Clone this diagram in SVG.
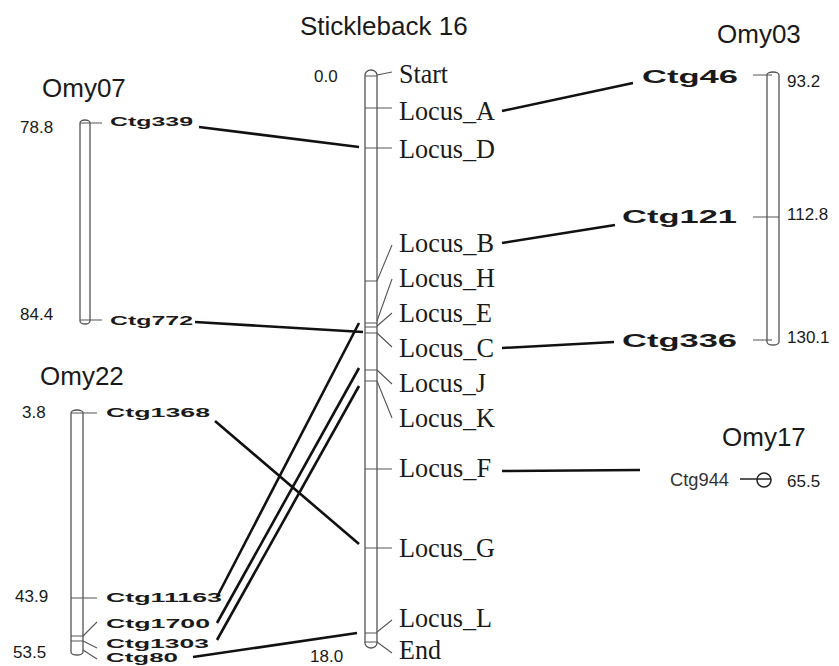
<svg xmlns="http://www.w3.org/2000/svg" width="839" height="666" viewBox="0 0 839 666">
<style>
.title{font-family:"Liberation Sans",Arial,sans-serif;font-size:26px;fill:#1a1a1a}
.num{font-family:"Liberation Sans",Arial,sans-serif;font-size:17px;fill:#1a1a1a}
.loc{font-family:"Liberation Serif","Times New Roman",serif;font-size:28px;fill:#1a1a1a}
.ctg{font-family:"Liberation Sans",Arial,sans-serif;font-weight:bold;font-size:13px;fill:#1a1a1a}
.ctgL{font-family:"Liberation Sans",Arial,sans-serif;font-weight:bold;font-size:19px;fill:#1a1a1a}
.ctgR{font-family:"Liberation Sans",Arial,sans-serif;font-size:19px;fill:#333}
.bar{fill:#fff;stroke:#555;stroke-width:1.3}
.tick{stroke:#555;stroke-width:1.1;fill:none}
.conn line{stroke:#111;stroke-width:2.6;stroke-linecap:butt}
</style>

<g id="stickleback16">
<text class="title" x="300" y="35">Stickleback 16</text>
<rect class="bar" x="365" y="70" width="12" height="578" rx="6" ry="5"/>
<path class="tick" d="M365,76H377 M365,642H377"/>
<text class="num" x="314" y="82">0.0</text>
<text class="num" x="310" y="662">18.0</text>
<path class="tick" d="M377,75L392,72 M365,108H392 M365,148H392 M365,281H377L392,245 M365,323H377 M377,321L392,279 M365,327H377 M377,326L392,313 M365,333H377 M377,333L392,347 M365,370H377 M377,370L392,384 M365,381H377 M377,381L392,418 M365,469H392 M365,548H392 M365,633H377 M377,632L392,620 M377,642L392,653"/>
<text class="loc" x="399" y="83" textLength="49" lengthAdjust="spacingAndGlyphs">Start</text>
<text class="loc" x="399" y="120" textLength="96" lengthAdjust="spacingAndGlyphs">Locus_A</text>
<text class="loc" x="399" y="158" textLength="96" lengthAdjust="spacingAndGlyphs">Locus_D</text>
<text class="loc" x="399" y="252" textLength="95" lengthAdjust="spacingAndGlyphs">Locus_B</text>
<text class="loc" x="399" y="287" textLength="96" lengthAdjust="spacingAndGlyphs">Locus_H</text>
<text class="loc" x="399" y="322" textLength="93" lengthAdjust="spacingAndGlyphs">Locus_E</text>
<text class="loc" x="399" y="357" textLength="95" lengthAdjust="spacingAndGlyphs">Locus_C</text>
<text class="loc" x="399" y="392" textLength="87" lengthAdjust="spacingAndGlyphs">Locus_J</text>
<text class="loc" x="399" y="427" textLength="96" lengthAdjust="spacingAndGlyphs">Locus_K</text>
<text class="loc" x="399" y="477" textLength="92" lengthAdjust="spacingAndGlyphs">Locus_F</text>
<text class="loc" x="399" y="557" textLength="96" lengthAdjust="spacingAndGlyphs">Locus_G</text>
<text class="loc" x="399" y="627" textLength="93" lengthAdjust="spacingAndGlyphs">Locus_L</text>
<text class="loc" x="399" y="659" textLength="42" lengthAdjust="spacingAndGlyphs">End</text>
</g>

<g id="omy07">
<text class="title" x="42" y="97">Omy07</text>
<rect class="bar" x="80" y="120" width="10" height="204" rx="5" ry="3"/>
<path class="tick" d="M80,123H102 M80,320H102"/>
<text class="num" x="20" y="133">78.8</text>
<text class="num" x="20" y="320">84.4</text>
<text class="ctg" x="110" y="126" textLength="83" lengthAdjust="spacingAndGlyphs">Ctg339</text>
<text class="ctg" x="110" y="325" textLength="83" lengthAdjust="spacingAndGlyphs">Ctg772</text>
</g>

<g id="omy22">
<text class="title" x="40" y="385">Omy22</text>
<rect class="bar" x="71" y="410" width="12" height="245" rx="6" ry="3"/>
<path class="tick" d="M71,413H97 M71,598H97 M71,636H83 M71,641H83 M83,636L97,622 M83,641L97,648 M83,650L97,659"/>
<text class="num" x="22" y="418">3.8</text>
<text class="num" x="15" y="602">43.9</text>
<text class="num" x="13" y="658">53.5</text>
<text class="ctg" x="106" y="417" textLength="104" lengthAdjust="spacingAndGlyphs">Ctg1368</text>
<text class="ctg" x="106" y="602" textLength="116" lengthAdjust="spacingAndGlyphs">Ctg11163</text>
<text class="ctg" x="106" y="628" textLength="104" lengthAdjust="spacingAndGlyphs">Ctg1700</text>
<text class="ctg" x="106" y="648" textLength="103" lengthAdjust="spacingAndGlyphs">Ctg1303</text>
<text class="ctg" x="106" y="662" textLength="72" lengthAdjust="spacingAndGlyphs">Ctg80</text>
</g>

<g id="omy03">
<text class="title" x="717" y="43">Omy03</text>
<rect class="bar" x="767" y="72" width="12" height="273" rx="6" ry="3"/>
<path class="tick" d="M753,75H772 M753,217H779 M753,340H772"/>
<text class="num" x="787" y="87">93.2</text>
<text class="num" x="787" y="220">112.8</text>
<text class="num" x="787" y="343">130.1</text>
<text class="ctgL" x="642" y="83" textLength="96" lengthAdjust="spacingAndGlyphs">Ctg46</text>
<text class="ctgL" x="622" y="223" textLength="115" lengthAdjust="spacingAndGlyphs">Ctg121</text>
<text class="ctgL" x="622" y="347" textLength="115" lengthAdjust="spacingAndGlyphs">Ctg336</text>
</g>

<g id="omy17">
<text class="title" x="722" y="446">Omy17</text>
<text class="ctgR" x="670" y="486" textLength="59" lengthAdjust="spacingAndGlyphs">Ctg944</text>
<path d="M740,479H771" stroke="#222" stroke-width="1.5"/>
<circle cx="764" cy="480" r="7" fill="none" stroke="#222" stroke-width="1.5"/>
<text class="num" x="787" y="487">65.5</text>
</g>

<g id="connectors" class="conn">
<line x1="199" y1="127" x2="359" y2="147"/>
<line x1="195" y1="322" x2="363" y2="332"/>
<line x1="502" y1="111" x2="633" y2="83"/>
<line x1="502" y1="243" x2="615" y2="225"/>
<line x1="502" y1="348" x2="614" y2="342"/>
<line x1="502" y1="471" x2="640" y2="470"/>
<line x1="215" y1="421" x2="359" y2="544"/>
<line x1="217" y1="597" x2="359" y2="323"/>
<line x1="217" y1="623" x2="359" y2="368"/>
<line x1="217" y1="640" x2="359" y2="386"/>
<line x1="193" y1="657" x2="357" y2="633"/>
</g>
</svg>
